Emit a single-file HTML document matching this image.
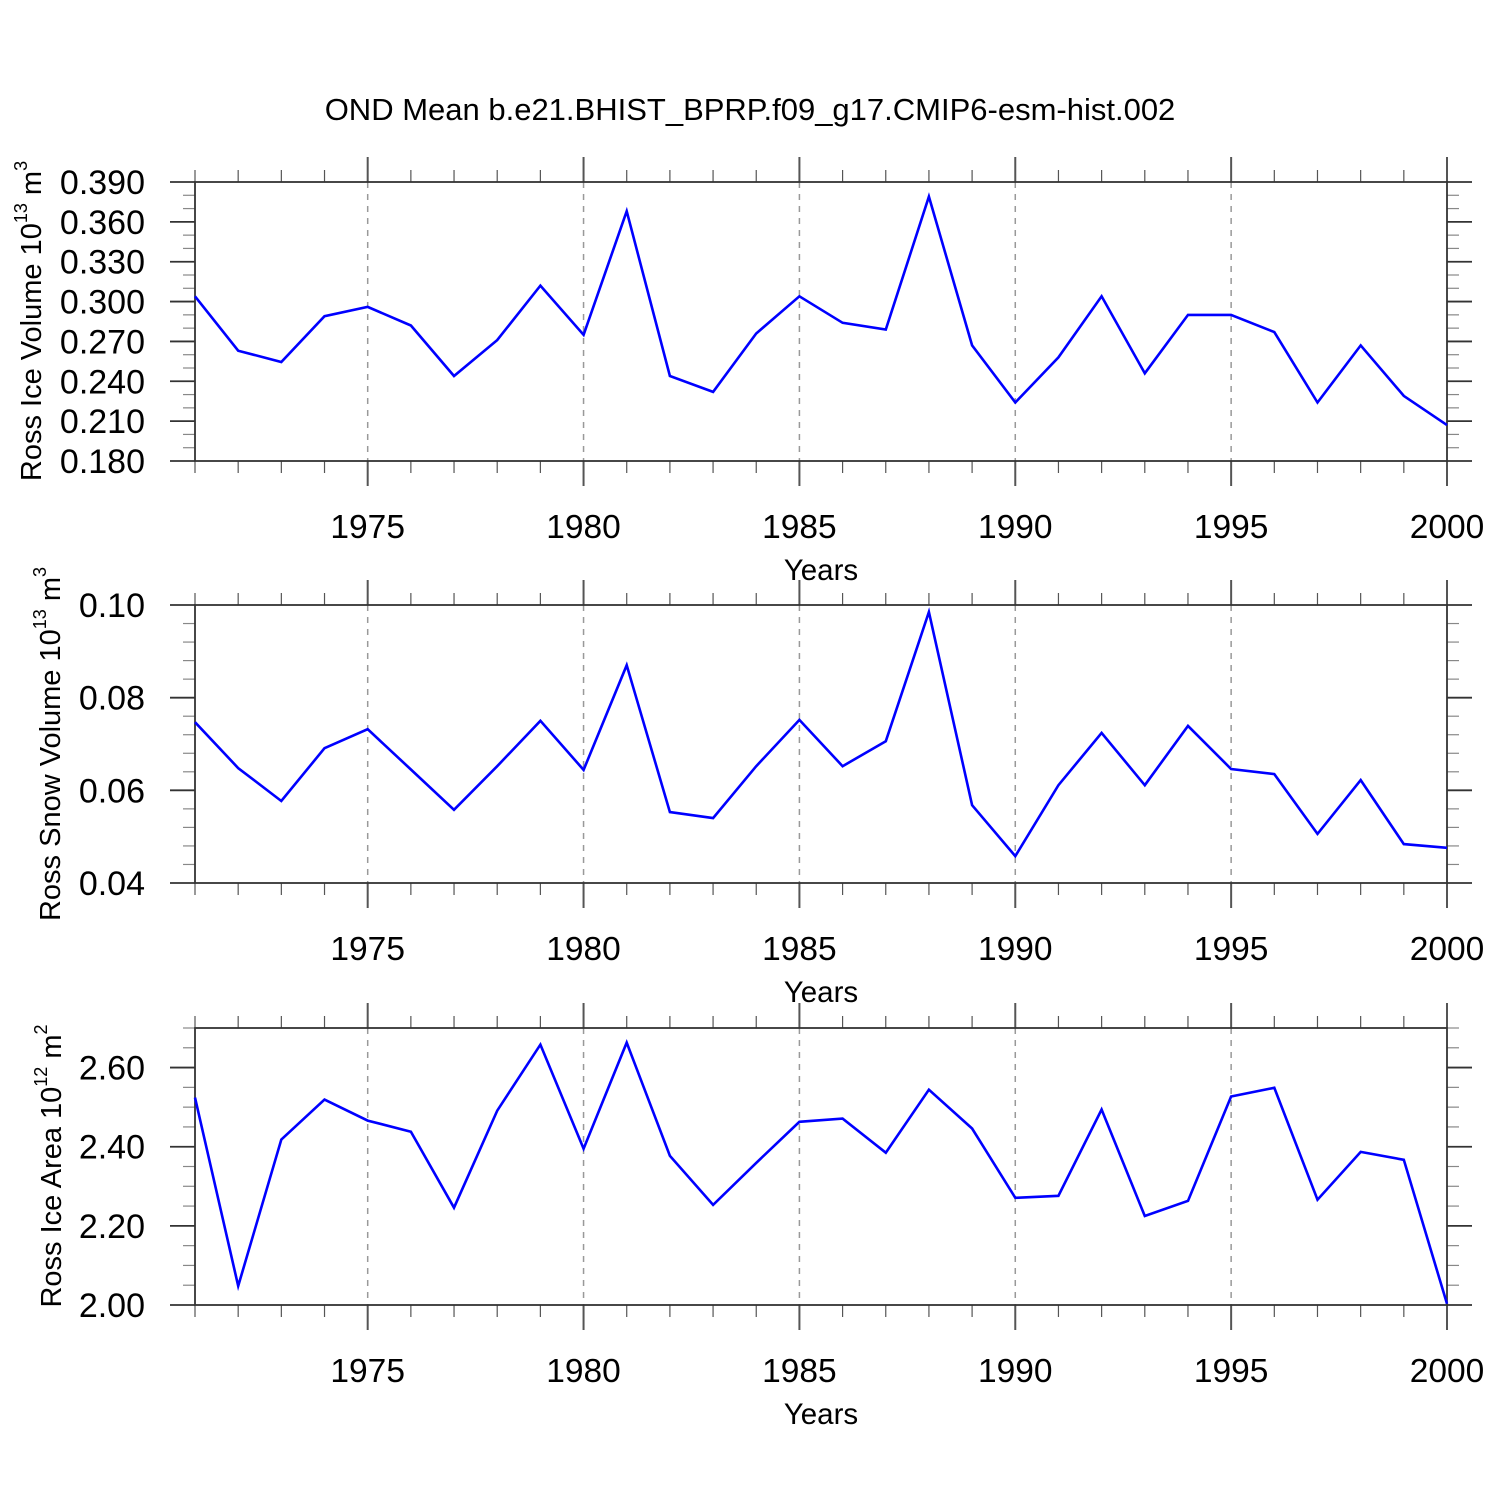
<!DOCTYPE html>
<html><head><meta charset="utf-8">
<style>
html,body{margin:0;padding:0;background:#fff;}
svg text{font-family:"Liberation Sans",sans-serif;}
</style></head>
<body>
<svg id="chart" width="1500" height="1500" viewBox="0 0 1500 1500" xmlns="http://www.w3.org/2000/svg">
<rect width="1500" height="1500" fill="#fff"/>
<text x="750" y="120" font-size="31" text-anchor="middle">OND Mean b.e21.BHIST_BPRP.f09_g17.CMIP6-esm-hist.002</text>
</svg>
<script>
const years = [1971,1972,1973,1974,1975,1976,1977,1978,1979,1980,1981,1982,1983,1984,1985,1986,1987,1988,1989,1990,1991,1992,1993,1994,1995,1996,1997,1998,1999,2000];
const iceVolume = [0.304,0.263,0.2545,0.289,0.296,0.282,0.244,0.271,0.312,0.275,0.368,0.244,0.232,0.276,0.304,0.284,0.279,0.379,0.267,0.224,0.258,0.304,0.246,0.290,0.290,0.277,0.224,0.267,0.229,0.207];
const snowVolume = [0.0747,0.0648,0.0577,0.0691,0.0732,0.0645,0.0558,0.0652,0.075,0.0644,0.087,0.0553,0.054,0.0652,0.0752,0.0652,0.0706,0.0985,0.0568,0.0458,0.0611,0.0724,0.0611,0.0739,0.0646,0.0635,0.0506,0.0622,0.0484,0.0476];
const iceArea = [2.524,2.048,2.418,2.519,2.466,2.438,2.246,2.491,2.658,2.395,2.663,2.377,2.253,2.359,2.463,2.471,2.385,2.544,2.446,2.271,2.276,2.494,2.225,2.263,2.527,2.549,2.266,2.387,2.367,2.003];
const xTickLabels = ["1975","1980","1985","1990","1995","2000"];
const xTickYears = [1975,1980,1985,1990,1995,2000];
const iceVolTicks = ["0.390","0.360","0.330","0.300","0.270","0.240","0.210","0.180"];
const snowTicks = ["0.10","0.08","0.06","0.04"];
const areaTicks = ["2.60","2.40","2.20","2.00"];

const NS="http://www.w3.org/2000/svg";
const svg=document.getElementById('chart');
const X0=195,X1=1447;
function xs(yr){return X0+(yr-1971)/(2000-1971)*(X1-X0);}
function mk(tag,attrs,parent){const e=document.createElementNS(NS,tag);for(const k in attrs)e.setAttribute(k,attrs[k]);(parent||svg).appendChild(e);return e;}

const panels=[
 {name:'ice-volume',top:182,bot:461,min:0.18,max:0.39,data:iceVolume,ticks:iceVolTicks,minor:0.01,title:['Ross Ice Volume 10','13',' m','3'],tx:41,ty:321},
 {name:'snow-volume',top:605,bot:883,min:0.04,max:0.10,data:snowVolume,ticks:snowTicks,minor:0.004,title:['Ross Snow Volume 10','13',' m','3'],tx:60,ty:744},
 {name:'ice-area',top:1028,bot:1305,min:2.0,max:2.7,data:iceArea,ticks:areaTicks,minor:0.05,title:['Ross Ice Area 10','12',' m','2'],tx:61,ty:1166}
];

panels.forEach(p=>{
 const g=mk('g',{});
 
 
 const ys=v=>p.bot-(v-p.min)/(p.max-p.min)*(p.bot-p.top);
 xTickYears.forEach(yr=>{ if(yr<2000){const l=mk('line',{x1:xs(yr),x2:xs(yr),y1:p.top,y2:p.bot,stroke:'#999','stroke-width':1.5,'stroke-dasharray':'6,6'},g);
  
  }});
 years.forEach(yr=>{const maj=yr%5===0;const len=maj?25:12;const x=xs(yr);
  mk('line',{x1:x,x2:x,y1:p.top,y2:p.top-len,stroke:'#555','stroke-width':maj?2:1.2},g);
  mk('line',{x1:x,x2:x,y1:p.bot,y2:p.bot+len,stroke:'#555','stroke-width':maj?2:1.2},g);});
 const n=Math.round((p.max-p.min)/p.minor);
 for(let i=0;i<=n;i++){const v=p.min+i*p.minor;const y=ys(v);
  const isMaj=p.ticks.some(t=>Math.abs(parseFloat(t)-v)<1e-6);const len=isMaj?25:12;
  mk('line',{x1:X0,x2:X0-len,y1:y,y2:y,stroke:isMaj?'#333':'#888','stroke-width':isMaj?1.8:1.2},g);
  mk('line',{x1:X1,x2:X1+len,y1:y,y2:y,stroke:isMaj?'#333':'#888','stroke-width':isMaj?1.8:1.2},g);}
 const fr=mk('rect',{x:X0,y:p.top,width:X1-X0,height:p.bot-p.top,fill:'none',stroke:'#333','stroke-width':1.8},g);
 
 
 p.ticks.forEach(t=>{const tx=mk('text',{x:145,y:ys(parseFloat(t))+12,'font-size':34,'text-anchor':'end'},g);tx.textContent=t;
  
  });
 xTickLabels.forEach((t,i)=>{const tx=mk('text',{x:xs(xTickYears[i]),y:p.bot+77,'font-size':33.5,'text-anchor':'middle'},g);tx.textContent=t;
  
  });
 const xt=mk('text',{x:821,y:p.bot+119,'font-size':29.5,'text-anchor':'middle'},g);xt.textContent='Years';
 
 
 const yt=mk('text',{x:0,y:0,'font-size':29,'text-anchor':'middle',transform:`translate(${p.tx},${p.ty}) rotate(-90)`},g);
 
 
 p.title.forEach((s,i)=>{const ts=mk('tspan',{},yt);ts.textContent=s;
  if(i%2===1){ts.setAttribute('font-size','18');ts.setAttribute('dy','-14');}
  else if(i>0){ts.setAttribute('dy','14');}});
 const pts=p.data.map((v,i)=>xs(years[i]).toFixed(1)+','+ys(v).toFixed(1)).join(' ');
 const pl=mk('polyline',{points:pts,fill:'none',stroke:'#0000ff','stroke-width':2.6,'stroke-linejoin':'miter'},g);
 
 
});
</script>
</body></html>
